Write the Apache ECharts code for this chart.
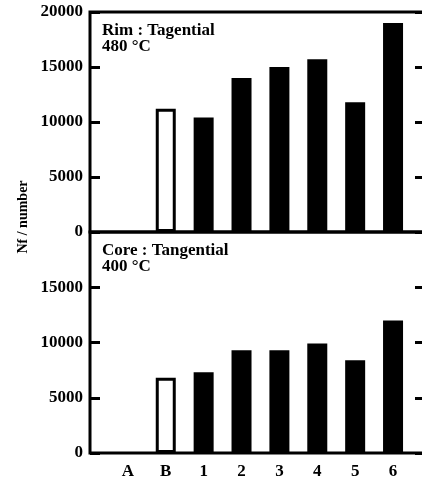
<!DOCTYPE html>
<html>
<head>
<meta charset="utf-8">
<script src="https://cdn.jsdelivr.net/npm/echarts@6/dist/echarts.min.js"></script>
<style>html,body{margin:0;padding:0;background:#fff}#c{width:422px;height:483px}</style>
</head>
<body>
<div id="c"></div>
<script>
const categories = ['A', 'B', '1', '2', '3', '4', '5', '6'];
const rimValues = [null, 11200, 10400, 14000, 15000, 15700, 11800, 19000];
const coreValues = [null, 6800, 7300, 9300, 9300, 9900, 8400, 12000];
const openCategories = ['B'];
const yTicks = [0, 5000, 10000, 15000, 20000];
const rimTitle = 'Rim : Tagential\n480 °C';
const coreTitle = 'Core : Tangential\n400 °C';
const yName = 'Nf / number';

const FONT = 'Liberation Serif';
const chart = echarts.init(document.getElementById('c'), null, {renderer: 'canvas'});

function barData(vals) {
  return categories.map((c, i) => {
    const open = openCategories.includes(c);
    return {
      value: [i, vals[i]],
      itemStyle: open ? {color: '#fff', borderColor: '#000', borderWidth: 3} : {color: '#000', borderWidth: 0}
    };
  }).filter(d => d.value[1] != null);
}

const gridLeft = 90, gridWidth = 336;
const xBase = {
  type: 'value', min: -1, max: 7.87, interval: 1,
  splitLine: {show: false}, axisTick: {show: false},
  axisLine: {show: false, onZero: false}
};
function yLeft(gi, hideMax) {
  return {
    type: 'value', gridIndex: gi, position: 'left', min: yTicks[0], max: yTicks[yTicks.length - 1], interval: 5000,
    splitLine: {show: false},
    axisLine: {show: false, onZero: false},
    axisTick: {show: true, inside: true, length: 10, lineStyle: {color: '#000', width: 3}},
    axisLabel: {
      show: true, margin: 7, color: '#000', fontFamily: FONT, fontWeight: 'bold', fontSize: 17,
      showMaxLabel: !hideMax,
      formatter: v => String(v)
    }
  };
}
function yRight(gi) {
  return {
    type: 'value', gridIndex: gi, position: 'right', min: yTicks[0], max: yTicks[yTicks.length - 1], interval: 5000,
    splitLine: {show: false},
    axisLine: {show: false, onZero: false},
    axisTick: {show: true, inside: true, length: 11, lineStyle: {color: '#000', width: 3}},
    axisLabel: {show: false}
  };
}

const titleStyle = {fontFamily: FONT, fontWeight: 'bold', fontSize: 17, lineHeight: 16, color: '#000'};
const gridBase = {left: gridLeft, width: gridWidth, show: true, borderColor: '#000', borderWidth: 3,
  backgroundColor: 'transparent', containLabel: false, outerBoundsMode: 'none'};

chart.setOption({
  animation: false,
  backgroundColor: '#fff',
  title: [
    {text: rimTitle, left: 102, top: 23, padding: 0, textStyle: titleStyle},
    {text: coreTitle, left: 102, top: 243, padding: 0, textStyle: titleStyle}
  ],
  grid: [
    Object.assign({}, gridBase, {top: 12, height: 220}),
    Object.assign({}, gridBase, {top: 232, height: 221})
  ],
  xAxis: [
    Object.assign({}, xBase, {gridIndex: 0, axisLabel: {show: false}}),
    Object.assign({}, xBase, {gridIndex: 1, axisLabel: {
      show: true, margin: 10, color: '#000', fontFamily: FONT, fontWeight: 'bold', fontSize: 17,
      showMinLabel: false, showMaxLabel: false,
      formatter: v => (Number.isInteger(v) && categories[v] !== undefined) ? categories[v] : ''
    }})
  ],
  yAxis: [yLeft(0, false), yRight(0), yLeft(1, true), yRight(1)],
  series: [
    {type: 'bar', xAxisIndex: 0, yAxisIndex: 0, barWidth: 20, data: barData(rimValues), z: 1},
    {type: 'bar', xAxisIndex: 1, yAxisIndex: 2, barWidth: 20, data: barData(coreValues), z: 1}
  ],
  graphic: [{
    type: 'text', x: 23, y: 217, rotation: Math.PI / 2,
    style: {text: yName, fill: '#000', font: 'bold 14px "Liberation Serif"', align: 'center', verticalAlign: 'middle'}
  }]
});
</script>
</body>
</html>
